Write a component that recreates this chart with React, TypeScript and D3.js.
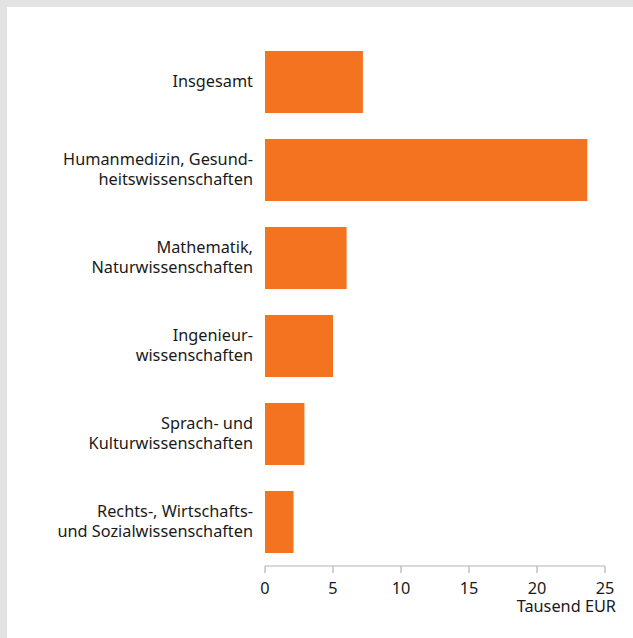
import React from "react";
import * as d3 from "d3";

const categories: string[][] = [
  ["Insgesamt"],
  ["Humanmedizin, Gesund-", "heitswissenschaften"],
  ["Mathematik,", "Naturwissenschaften"],
  ["Ingenieur-", "wissenschaften"],
  ["Sprach- und", "Kulturwissenschaften"],
  ["Rechts-, Wirtschafts-", "und Sozialwissenschaften"],
];
const values: number[] = [7.2, 23.7, 6.0, 5.0, 2.9, 2.1];
const xTicks: number[] = [0, 5, 10, 15, 20, 25];
const unitLabel = "Tausend EUR";

const W = 633;
const H = 638;
const FONT = "'Noto Sans', 'Open Sans', sans-serif";
const FS = 16.3;

export default function App() {
  const x = d3.scaleLinear().domain([0, 25]).range([265, 605]);
  const idx = categories.map((_, i) => String(i));
  const y = d3.scaleBand().domain(idx).range([38, 566]).paddingInner(0.295).paddingOuter(0.1475);
  const axisY = 566;
  const lineH = 20;

  return (
    <div style={{ position: "absolute", left: 0, top: 0, width: W, height: H }}>
      <svg width={W} height={H} style={{ display: "block" }}>
        <rect x={0} y={0} width={W} height={H} fill="#e3e3e3" />
        <rect x={7} y={7} width={W - 7} height={H - 7} fill="#ffffff" />
        {values.map((v, i) => (
          <rect
            key={i}
            x={x(0)}
            y={y(String(i))}
            width={x(v) - x(0)}
            height={y.bandwidth()}
            fill="#f47321"
          />
        ))}
        {categories.map((lines, i) => {
          const cy = (y(String(i)) as number) + y.bandwidth() / 2;
          const n = lines.length;
          return (
            <text
              key={i}
              textAnchor="end"
              fontFamily={FONT}
              fontSize={FS}
              fill="#1a1a1a"
            >
              {lines.map((l, j) => (
                <tspan key={j} x={253} y={cy + (j - (n - 1) / 2) * lineH + 5}>
                  {l}
                </tspan>
              ))}
            </text>
          );
        })}
        <line x1={x(0)} x2={x(25)} y1={axisY} y2={axisY} stroke="#b3b3b3" strokeWidth={1.2} />
        {xTicks.map((t) => (
          <g key={t}>
            <line x1={x(t)} x2={x(t)} y1={axisY} y2={axisY + 7} stroke="#b3b3b3" strokeWidth={1.2} />
            <text
              x={x(t)}
              y={594}
              textAnchor="middle"
              fontFamily={FONT}
              fontSize={FS}
              fill="#1a1a1a"
            >
              {t}
            </text>
          </g>
        ))}
        <text x={616} y={612} textAnchor="end" fontFamily={FONT} fontSize={FS} fill="#1a1a1a">
          {unitLabel}
        </text>
      </svg>
    </div>
  );
}
